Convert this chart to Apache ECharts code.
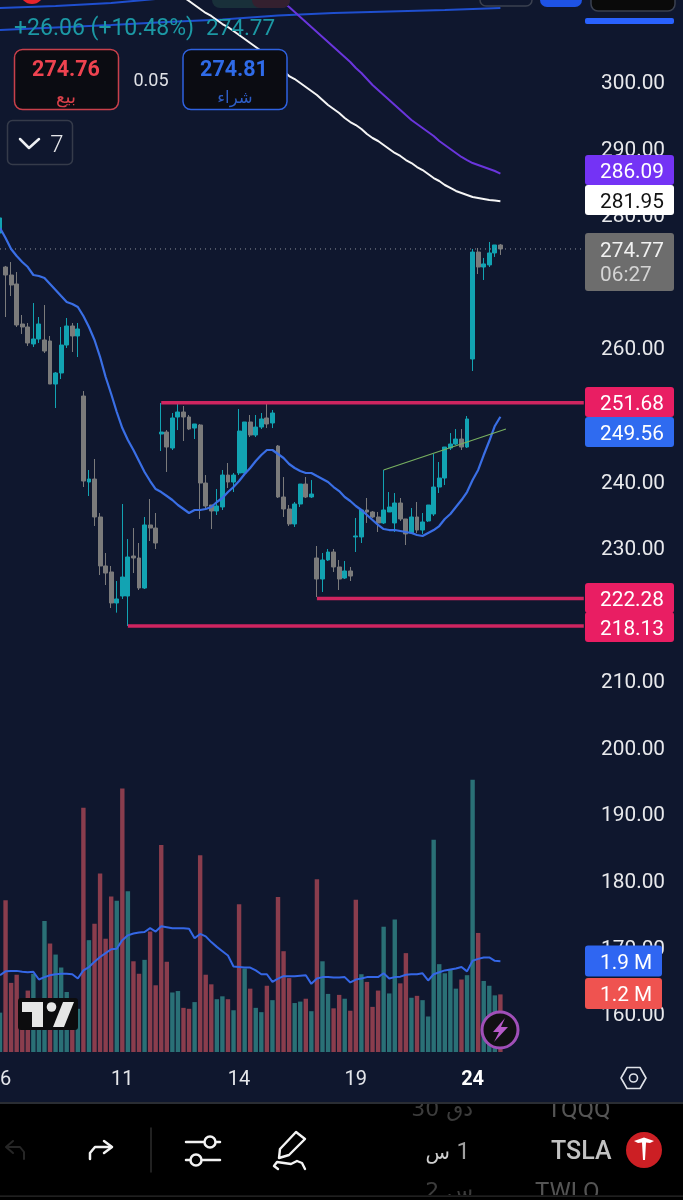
<!DOCTYPE html>
<html>
<head>
<meta charset="utf-8">
<style>html,body{margin:0;padding:0;background:#0f172e}#c{width:683px;height:1200px}</style>
<script src="https://cdn.jsdelivr.net/npm/echarts@6/dist/echarts.min.js"></script>
</head>
<body>
<div id="c"></div>
<script>
// [open, close, low, high]
const candles = [
[277.17,279.43,275.37,279.58],[272.06,270.86,264.55,272.22],[270.86,269.36,267.70,272.81],[269.51,263.35,263.05,271.31],
[263.50,263.05,262.00,264.85],[263.05,260.65,260.20,263.65],[260.50,261.25,260.05,266.65],[261.25,263.50,260.65,264.55],
[261.10,259.44,259.14,266.35],[260.95,254.48,254.48,261.70],[254.48,256.14,250.88,256.29],[256.14,260.34,255.23,263.05],
[260.34,263.20,259.89,264.40],[263.20,261.70,259.29,263.65],[261.70,262.75,258.54,263.65],[252.68,239.91,239.01,253.43],
[239.76,240.21,237.66,241.57],[240.21,234.51,233.16,243.22],[234.51,227.15,225.79,235.11],[227.15,226.09,224.29,229.10],
[226.25,221.59,220.84,227.15],[221.59,222.19,220.14,224.89],[222.64,225.49,222.19,236.46],[222.64,228.50,218.13,231.20],
[228.65,228.35,226.09,232.85],[228.35,223.84,223.54,230.60],[223.84,233.31,223.69,234.51],[233.31,232.85,230.90,237.21],
[232.85,230.60,229.70,235.11],[246.97,247.27,244.42,251.63],[247.27,245.02,241.27,247.57],[244.87,249.38,244.57,250.13],
[249.53,250.28,247.57,251.78],[250.28,249.53,245.92,251.18],[249.53,247.72,247.57,249.83],[247.87,248.48,246.22,248.48],
[248.33,239.61,234.21,248.48],[239.61,236.16,235.71,240.81],[236.31,235.41,232.70,236.31],[235.41,236.16,234.81,238.71],
[236.01,240.81,235.56,241.57],[240.81,239.76,238.86,242.62],[239.76,240.81,238.26,241.12],[241.12,247.42,240.81,250.73],
[241.12,248.78,241.12,248.78],[248.78,246.82,246.52,249.83],[246.82,248.02,246.52,249.83],[248.02,249.23,247.72,250.13],
[249.38,248.48,247.87,251.63],[248.63,250.13,247.87,250.58],[245.17,237.51,237.36,245.32],[237.51,235.71,234.51,240.51],
[235.71,233.46,233.16,236.31],[233.46,236.46,233.01,236.76],[236.46,239.46,236.01,239.46],[239.46,237.51,237.36,240.51],
[237.51,237.96,237.36,240.06],[228.35,225.19,222.49,230.15],[225.19,228.05,223.24,229.10],[228.05,229.25,227.90,229.70],
[229.25,227.00,226.25,229.70],[227.00,225.19,223.54,228.05],[225.34,226.40,225.19,227.90],[226.40,225.64,224.89,227.00],
[231.51,231.66,229.25,234.36],[231.51,235.56,230.60,235.56],[235.56,235.26,233.61,237.36],[235.26,234.51,234.36,235.41],
[234.51,233.61,232.25,235.26],[233.61,235.56,233.46,241.57],[235.26,236.01,235.26,238.26],[233.61,236.61,232.25,238.11],
[236.61,234.21,233.91,237.36],[234.21,231.96,230.30,234.21],[232.11,234.51,231.96,235.86],[234.51,232.55,232.11,236.76],
[232.55,233.76,231.96,235.11],[233.91,236.31,233.76,236.31],[234.96,239.01,234.66,243.96],[239.01,240.36,238.11,242.77],
[240.36,245.02,239.31,245.02],[244.87,245.47,244.57,247.12],[245.47,246.22,245.32,247.72],[246.22,245.02,244.57,247.72],
[245.02,249.23,244.87,249.68],[258.24,274.31,256.44,274.77],[274.31,272.06,271.01,274.92],[272.06,272.52,270.11,273.42],
[272.37,274.17,272.06,275.82],[274.17,275.37,273.57,275.37],[275.37,274.77,273.87,275.52]
];
const maFast = [277.92,276.42,274.77,273.71,272.81,272.06,270.86,270.71,270.41,269.51,268.61,267.70,266.80,266.50,266.05,264.70,263.05,261.10,258.54,255.54,252.98,250.28,247.87,246.07,244.57,242.92,241.27,239.91,238.71,238.26,237.66,237.06,236.31,235.71,235.11,235.56,235.56,235.71,236.01,236.76,237.36,238.26,239.01,239.91,240.96,241.87,242.92,243.82,244.57,244.57,243.97,243.37,242.47,241.87,241.42,241.12,241.12,240.66,240.21,239.76,239.01,238.41,237.51,236.91,236.16,235.56,234.81,234.06,233.31,232.70,232.55,232.55,232.40,232.25,232.10,231.80,231.65,232.10,232.55,233.15,234.21,234.96,236.01,237.06,238.26,240.06,241.57,243.82,245.92,248.18,249.56];
const whiteStart = 33;
const maWhite = [312.62,312.02,311.42,310.82,310.22,309.77,309.17,308.56,308.11,307.51,306.91,306.31,305.71,305.11,304.51,303.76,303.01,302.41,301.50,300.75,300.30,299.70,299.10,298.50,297.90,297.15,296.40,295.80,295.19,294.44,293.84,293.39,292.79,292.04,291.44,290.99,290.39,289.79,289.19,288.74,288.13,287.68,287.08,286.63,286.03,285.43,284.98,284.38,283.93,283.48,283.18,282.88,282.58,282.43,282.28,282.13,282.05,281.95];
const purpleStart = 50;
const maPurple = [312.47,311.72,311.12,310.37,309.62,308.87,308.11,307.36,306.61,305.86,305.11,304.36,303.61,302.86,301.95,301.20,300.30,299.40,298.65,297.90,297.15,296.40,295.65,294.89,294.14,293.54,292.94,292.34,291.74,290.99,290.39,289.79,289.19,288.59,288.13,287.68,287.38,287.08,286.78,286.48,286.09];
const maLong = [[0,307.66],[10,308.04],[20,308.41],[30,308.87],[40,309.24],[50,309.84],[60,310.22],[70,310.44],[80,310.67],[90,310.97]];
const maUpper = [[0,310.97],[10,311.27],[20,311.72],[25,312.10],[30,312.47]];
const levelHigh = [[29,251.68],[105,251.68]];
const levelMid = [[57,222.28],[105,222.28]];
const levelLow = [[23,218.13],[105,218.13]];
const lastPrice = [[0,274.77],[105,274.77]];
const trendLine = [[69,241.57],[91,247.72]];
const volumes = [0.82,3.16,1.44,1.61,0.74,1.28,1.63,0.90,2.73,2.26,2.03,1.76,1.25,1.00,0.90,5.09,2.33,2.67,3.72,2.36,3.24,3.15,5.49,3.35,1.89,1.63,1.92,2.51,1.39,4.31,1.88,1.24,1.27,0.92,0.90,1.04,4.10,1.61,1.41,1.10,1.16,1.10,0.87,3.08,1.74,1.32,0.92,0.83,1.38,1.08,3.23,2.10,1.54,1.02,1.05,1.11,0.85,3.60,1.89,1.21,0.91,1.19,1.11,0.86,3.17,1.62,1.46,0.94,1.28,2.61,1.22,2.76,1.43,2.06,1.13,1.17,1.08,0.74,4.42,1.83,1.64,1.72,1.32,1.51,1.60,5.67,2.48,1.48,1.38,1.18,1.20];
const volumeUp = [1,0,0,0,0,0,1,1,1,0,1,1,1,0,1,0,1,0,0,0,0,1,0,1,0,0,1,0,0,0,0,1,1,0,0,1,0,0,0,1,1,0,1,0,1,0,1,1,0,1,0,0,0,1,1,0,1,0,1,1,0,0,1,0,0,1,0,0,0,1,1,1,0,0,1,0,1,1,1,1,1,1,1,0,1,1,0,1,1,1,0];
const volumeMa = [1.60,1.68,1.69,1.69,1.67,1.66,1.67,1.51,1.56,1.60,1.62,1.63,1.63,1.62,1.53,1.70,1.77,1.88,1.98,2.06,2.14,2.15,2.33,2.43,2.47,2.49,2.50,2.58,2.51,2.62,2.60,2.58,2.58,2.58,2.57,2.37,2.46,2.41,2.29,2.19,2.10,2.01,1.78,1.77,1.76,1.76,1.70,1.62,1.62,1.46,1.53,1.58,1.58,1.58,1.59,1.60,1.42,1.53,1.56,1.56,1.55,1.55,1.56,1.45,1.51,1.53,1.56,1.56,1.56,1.64,1.53,1.56,1.57,1.61,1.62,1.62,1.64,1.49,1.62,1.66,1.70,1.72,1.74,1.77,1.68,1.90,1.94,1.97,1.97,1.90,1.89];
const tickDates = {1:'6',22:'11',43:'14',64:'19',85:'24'};
const categories = Array.from({length:123},(_,i)=>tickDates[i]||'');
const priceTags = [
  {label:'286.09',center:170,bg:'#7433f5',fg:'#ffffff'},
  {label:'281.95',center:200,bg:'#ffffff',fg:'#111111'},
  {label:'251.68',center:402,bg:'#e91e63',fg:'#ffffff'},
  {label:'249.56',center:432,bg:'#2f6bf0',fg:'#ffffff'},
  {label:'222.28',center:598,bg:'#e91e63',fg:'#ffffff'},
  {label:'218.13',center:627,bg:'#e91e63',fg:'#ffffff'}
];
const volumeTags = [
  {label:'1.9 M',center:961,bg:'#2f66f2'},
  {label:'1.2 M',center:993.5,bg:'#ef5350'}
];

const F = 'Roboto, "DejaVu Sans", sans-serif';
const TEAL='#12a3b2', GRAY='#7b7b7b', VT='#2a7076', VR='#8a3d4d', PINK='#cf2560';
const chart = echarts.init(document.getElementById('c'),null,{renderer:'canvas'});
const pad=(start,arr)=>arr.map((v,i)=>[start+i,v]);
const lineS=(data,color,width,extra)=>Object.assign({type:'line',data,showSymbol:false,symbol:'none',silent:true,
  lineStyle:{color,width},xAxisIndex:0,yAxisIndex:0},extra||{});
const option={
  backgroundColor:'#0f172e',
  animation:false,
  grid:[
    {left:0,top:0,width:678.32,height:1013,show:false,outerBoundsMode:'none'},
    {left:0,top:764,width:678.32,height:288,show:false,outerBoundsMode:'none'}
  ],
  xAxis:[
    {type:'category',gridIndex:0,data:categories,boundaryGap:false,show:false},
    {type:'category',gridIndex:1,data:categories,boundaryGap:false,axisLine:{show:false},axisTick:{show:false},
     axisLabel:{interval:0,margin:18,color:'#e4e6ea',fontSize:20,fontFamily:F,
       formatter:v=>v==='24'?'{b|24}':v,rich:{b:{fontWeight:'bold',fontSize:20,color:'#ffffff',fontFamily:F}}}}
  ],
  yAxis:[
    {type:'value',gridIndex:0,position:'right',min:160,max:312.17,interval:10,splitLine:{show:false},axisLine:{show:false},axisTick:{show:false},
     axisLabel:{inside:true,margin:13.3,showMinLabel:true,
       formatter:v=>v>300?'':'{p|'+v.toFixed(2)+'}',
       rich:{p:{color:'#e8e9ec',fontSize:20.8,fontFamily:F,padding:[6,0,0,0]}}}},
    {type:'value',gridIndex:1,min:0,max:6,show:false}
  ],
  series:[
    {type:'bar',xAxisIndex:1,yAxisIndex:1,barWidth:4.4,silent:true,
     data:volumes.map((v,i)=>({value:v,itemStyle:{color:volumeUp[i]?VT:VR}}))},
    {type:'line',xAxisIndex:1,yAxisIndex:1,data:volumeMa,showSymbol:false,symbol:'none',silent:true,lineStyle:{color:'#3567e6',width:2}},
    lineS(lastPrice,'#8d919b',1,{lineStyle:{color:'#8d919b',width:1,type:[1,4]}}),
    {type:'candlestick',xAxisIndex:0,yAxisIndex:0,data:candles,barWidth:4.4,silent:true,
     itemStyle:{color:TEAL,color0:GRAY,borderColor:TEAL,borderColor0:GRAY,borderWidth:1}},
    lineS(maLong,'#1f4fcf',2),
    lineS(maUpper,'#1f4fcf',2),
    lineS(pad(whiteStart,maWhite),'#f5f5f5',2),
    lineS(pad(purpleStart,maPurple),'#6a35dc',2),
    lineS(maFast,'#3a6fe6',2.2),
    lineS(trendLine,'#78b060',1.2),
    lineS(levelHigh,PINK,3.5),
    lineS(levelMid,PINK,3.5),
    lineS(levelLow,PINK,3.5)
  ]
};
chart.setOption(option);

const Z=100;
const TEXT_DY=2.5;
const rect=(x,y,w,h,fill,r,stroke,lw)=>({type:'rect',z:Z,silent:true,shape:{x,y,width:w,height:h,r:r||0},style:{fill:fill||'none',stroke:stroke||null,lineWidth:lw||0}});
const text=(t,x,y,fill,font,align,op)=>({type:'text',z:Z+1,silent:true,style:{text:t,x,y:y+TEXT_DY,fill,font:font,textAlign:align||'left',textVerticalAlign:'middle',opacity:op==null?1:op}});
const poly=(pts,fill,stroke,lw)=>({type:'polygon',z:Z+1,silent:true,shape:{points:pts},style:{fill,stroke:stroke||null,lineWidth:lw||0,lineJoin:'round'}});
const pline=(pts,stroke,lw)=>({type:'polyline',z:Z+1,silent:true,shape:{points:pts},style:{stroke,lineWidth:lw,fill:'none',lineCap:'round',lineJoin:'round'}});
const line=(x1,y1,x2,y2,stroke,lw)=>pline([[x1,y1],[x2,y2]],stroke,lw);
const circ=(cx,cy,r,fill,stroke,lw,z)=>({type:'circle',z:z||Z+1,silent:true,shape:{cx,cy,r},style:{fill,stroke:stroke||null,lineWidth:lw||0}});

const els=[];
// top strip
els.push(circ(32,-8,12,'#e8242c'));
els.push(rect(212,-10,78,18,'#19303a',8));
els.push(rect(252,-10,38,18,'#34202f',8));
els.push(rect(480,-20,52,26,'#0f172e',6,'#3b4150',1.5));
els.push(rect(540,-20,42,27,'#1e53e5',7));
els.push(rect(591,-20,84,31,'#0a0a0a',7,'#3b4150',1.5));
els.push(rect(585,18,89,6,'#2962ff',2));
// header
els.push(text('+26.06 (+10.48%)',14,27,'#1c98a4','23px '+F));
els.push(text('274.77',206,27,'#1c98a4','22.5px '+F));
els.push(rect(14.5,49.5,104,60,'#0b0c12',8,'#c9404b',1.5));
els.push(text('274.76',66,68,'#ef4350','bold 21.5px '+F,'center'));
els.push(text('بيع',66,96,'#d8404a','18px "DejaVu Sans"','center'));
els.push(text('0.05',151,79,'#dfe1e6','18px '+F,'center'));
els.push(rect(183,49.5,104,60,'#0b0c12',8,'#2f62e0',1.5));
els.push(text('274.81',234,68,'#2f6be8','bold 21.5px '+F,'center'));
els.push(text('شراء',235,96,'#2d5cc4','16.5px "DejaVu Sans"','center'));
els.push(rect(7.5,120.5,65,44,'#0f172e',5,'#353b4a',1.5));
els.push(pline([[20,139],[29,148],[39,139]],'#eef0f3',2.5));
els.push(text('7',57,143,'#e6e7ea','300 24px '+F,'center'));
// price tags
priceTags.forEach(t=>{
  els.push(rect(585,t.center-15,89,30,t.bg,3));
  els.push(text(t.label,600,t.center,t.fg,'20.8px '+F));
});
// current price
const yLast=chart.convertToPixel({yAxisIndex:0},274.77);
els.push(rect(585,yLast-16,89,58,'#6d6d6d',3));
els.push(text('274.77',600,yLast,'#f1f1f1','20.8px '+F));
els.push(text('06:27',600,yLast+24,'#d4d4d4','20.8px '+F));
// volume tags
volumeTags.forEach(t=>{
  els.push(rect(585,t.center-15.5,77,31,t.bg,3));
  els.push(text(t.label,600,t.center,'#ffffff','20.8px '+F));
});
// TradingView mark
els.push(rect(18,998,60,32,'#0c0c0e',3));
els.push(poly([[22,1002],[43,1002],[43,1027],[32,1027],[32,1012],[22,1012]],'#e6e6e6'));
els.push(circ(51.5,1007,4.8,'#e6e6e6'));
els.push(poly([[63,1002],[74,1002],[64,1027],[53,1027]],'#e6e6e6'));
// bolt badge
els.push(circ(500,1030,18,'#101014','#a04fb8',3));
els.push(poly([[505,1018],[493,1032],[499,1032],[494,1042],[508,1027],[501,1027]],'#b65ac8'));
// settings hexagon
els.push(poly([[621,1078],[627,1067.5],[640,1067.5],[646,1078],[640,1088.5],[627,1088.5]],'none','#dfe2e8',1.6));
els.push(circ(633.5,1078,4,'none','#dfe2e8',1.6));
// bottom toolbar
els.push(text('TQQQ',547,1108,'#777777','24px '+F,'left',.7));
els.push(text('30 دق',473,1108,'#555555','22px "DejaVu Sans"','right',.7));
els.push(text('TWLO',535,1190,'#777777','24px '+F,'left',.7));
els.push(text('2 س',473,1190,'#555555','22px "DejaVu Sans"','right',.7));
els.push(rect(0,1095,683,8,'#0f172e'));
Object.assign(els[els.length-1],{z:Z+2});
const black=rect(0,1103,683,97,'#000000');
els.splice(0,0,black);
const lineTop=rect(0,1102,683,2,'#2a2d33'); lineTop.z=Z+3; els.push(lineTop);
const lineBot=rect(0,1195,683,5,'#000000'); lineBot.z=Z+3; els.push(lineBot);
const lineBot2=rect(0,1195.5,683,1.2,'#2b2b2b'); lineBot2.z=Z+4; els.push(lineBot2);
els.push(text('TSLA',551,1150,'#c2c2c2','500 25px '+F));
els.push(circ(644,1150,18,'#cc1f24'));
els.push(poly([[634,1141],[644,1137.5],[654,1141],[650,1143],[646,1142.5],[645,1160],[643,1160],[642,1142.5],[638,1143]],'#ffffff'));
els.push(text('1',470,1150,'#a0a0a0','24px '+F,'right'));
els.push(text('س',450,1151,'#cfcfcf','20px "DejaVu Sans"','right'));
els.push(pline([[24,1159],[24,1152],[20,1147],[8,1147]],'#262626',2));
els.push(pline([[13,1141],[6,1147],[13,1153]],'#262626',2));
els.push(pline([[90,1159],[90,1153],[95,1147],[111,1147]],'#f2f2f2',2.5));
els.push(pline([[104,1141],[112,1147],[104,1153]],'#f2f2f2',2.5));
els.push(line(151,1128,151,1172,'#2c2c2c',1.5));
els.push(line(186,1142,205,1142,'#f2f2f2',2.5));
els.push(line(216,1142,220,1142,'#f2f2f2',2.5));
els.push(circ(210,1142,5.5,'#000000','#f2f2f2',2.5));
els.push(line(186,1160,191,1160,'#f2f2f2',2.5));
els.push(line(202,1160,220,1160,'#f2f2f2',2.5));
els.push(circ(196,1160,5.5,'#000000','#f2f2f2',2.5));
els.push(poly([[279,1158],[280,1149],[296,1132],[305,1139],[289,1155]],'#000000','#f4f4f4',2.4));
els.push(pline([[278,1169],[274,1166],[277,1162],[284,1163],[291,1164],[297,1161],[302,1163],[305,1169]],'#f4f4f4',2.4));
chart.setOption({graphic:{elements:els}});
</script>
</body>
</html>
